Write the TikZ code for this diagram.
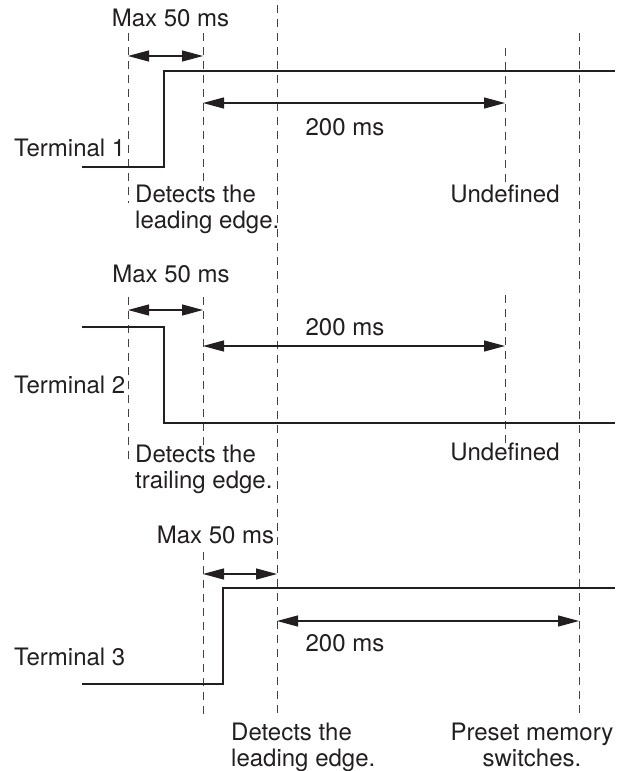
\documentclass[tikz,border=0pt]{standalone}
\usepackage{fontspec}
\setmainfont{TeX Gyre Heros}
\usetikzlibrary{arrows.meta}
\definecolor{ink}{RGB}{35,31,32}
\tikzset{
  signal/.style={draw=ink, line width=2.4pt},
  guide/.style={draw=ink!85, line width=1pt, dash pattern=on 8pt off 6pt},
  span/.style={draw=ink, line width=1.2pt,
    {Triangle[length=21pt,width=11pt]}-{Triangle[length=21pt,width=11pt]}},
  lbl/.style={text=ink, inner sep=0pt, font=\fontsize{24}{26.5}\selectfont},
}
\begin{document}
\begin{tikzpicture}[x=1pt,y=-1pt]
  \useasboundingbox (0,0) rectangle (630,771);
  \draw
    (128,56) coordinate (a1) (203,56) coordinate (b1)
    (203,103) coordinate (c1) (505,103) coordinate (d1)
    (128,310) coordinate (a2) (203,310) coordinate (b2)
    (203,346) coordinate (c2) (505,346) coordinate (d2)
    (203,574) coordinate (a3) (277,574) coordinate (b3)
    (277,621) coordinate (c3) (579,621) coordinate (d3);
  \begin{scope}[guide]
    \draw (128,33) -- (128,203);
    \draw (203,33) -- (203,190);
    \draw (505,48) -- (505,182);
    \draw (128,297) -- (128,462);
    \draw (203,297) -- (203,450);
    \draw (505,295) -- (505,443);
    \draw (203,552) -- (203,715);
    \draw (277,5) -- (277,713);
    \draw (579,33) -- (579,713);
  \end{scope}
  \begin{scope}[signal]
    \draw (82,167) -- (164,167) -- (164,71) -- (615,71);
    \draw (82,327) -- (164,327) -- (164,423) -- (615,423);
    \draw (82,684) -- (223,684) -- (223,588) -- (615,588);
  \end{scope}
  \begin{scope}[span]
    \draw (a1) to (b1);
    \draw (c1) to (d1);
    \draw (a2) to (b2);
    \draw (c2) to (d2);
    \draw (a3) to (b3);
    \draw (c3) to (d3);
  \end{scope}
  \begin{scope}[lbl]
    \node[anchor=base] (max1) at (170.5,27) {Max 50 ms};
    \node[anchor=base] (ms1) at (345,135) {200 ms};
    \node[anchor=base west] (term1) at (14,156) {Terminal 1};
    \node[anchor=north west, align=left] (det1) at (135,184.5) {Detects the\\leading edge.};
    \node[anchor=base] (undef1) at (505,202) {Undefined};
    \node[anchor=base] (max2) at (171,282) {Max 50 ms};
    \node[anchor=base] (ms2) at (345,335) {200 ms};
    \node[anchor=base west] (term2) at (14,393) {Terminal 2};
    \node[anchor=north west, align=left] (det2) at (135,444.5) {Detects the\\trailing edge.};
    \node[anchor=base] (undef2) at (505,460) {Undefined};
    \node[anchor=base] (max3) at (215.5,543) {Max 50 ms};
    \node[anchor=base] (ms3) at (345,651) {200 ms};
    \node[anchor=base west] (term3) at (14,665) {Terminal 3};
    \node[anchor=north west, align=left] (det3) at (231,722.5) {Detects the\\leading edge.};
    \node[anchor=north, align=center] (preset) at (532,722.5) {Preset memory\\switches.};
  \end{scope}
\end{tikzpicture}
\end{document}
